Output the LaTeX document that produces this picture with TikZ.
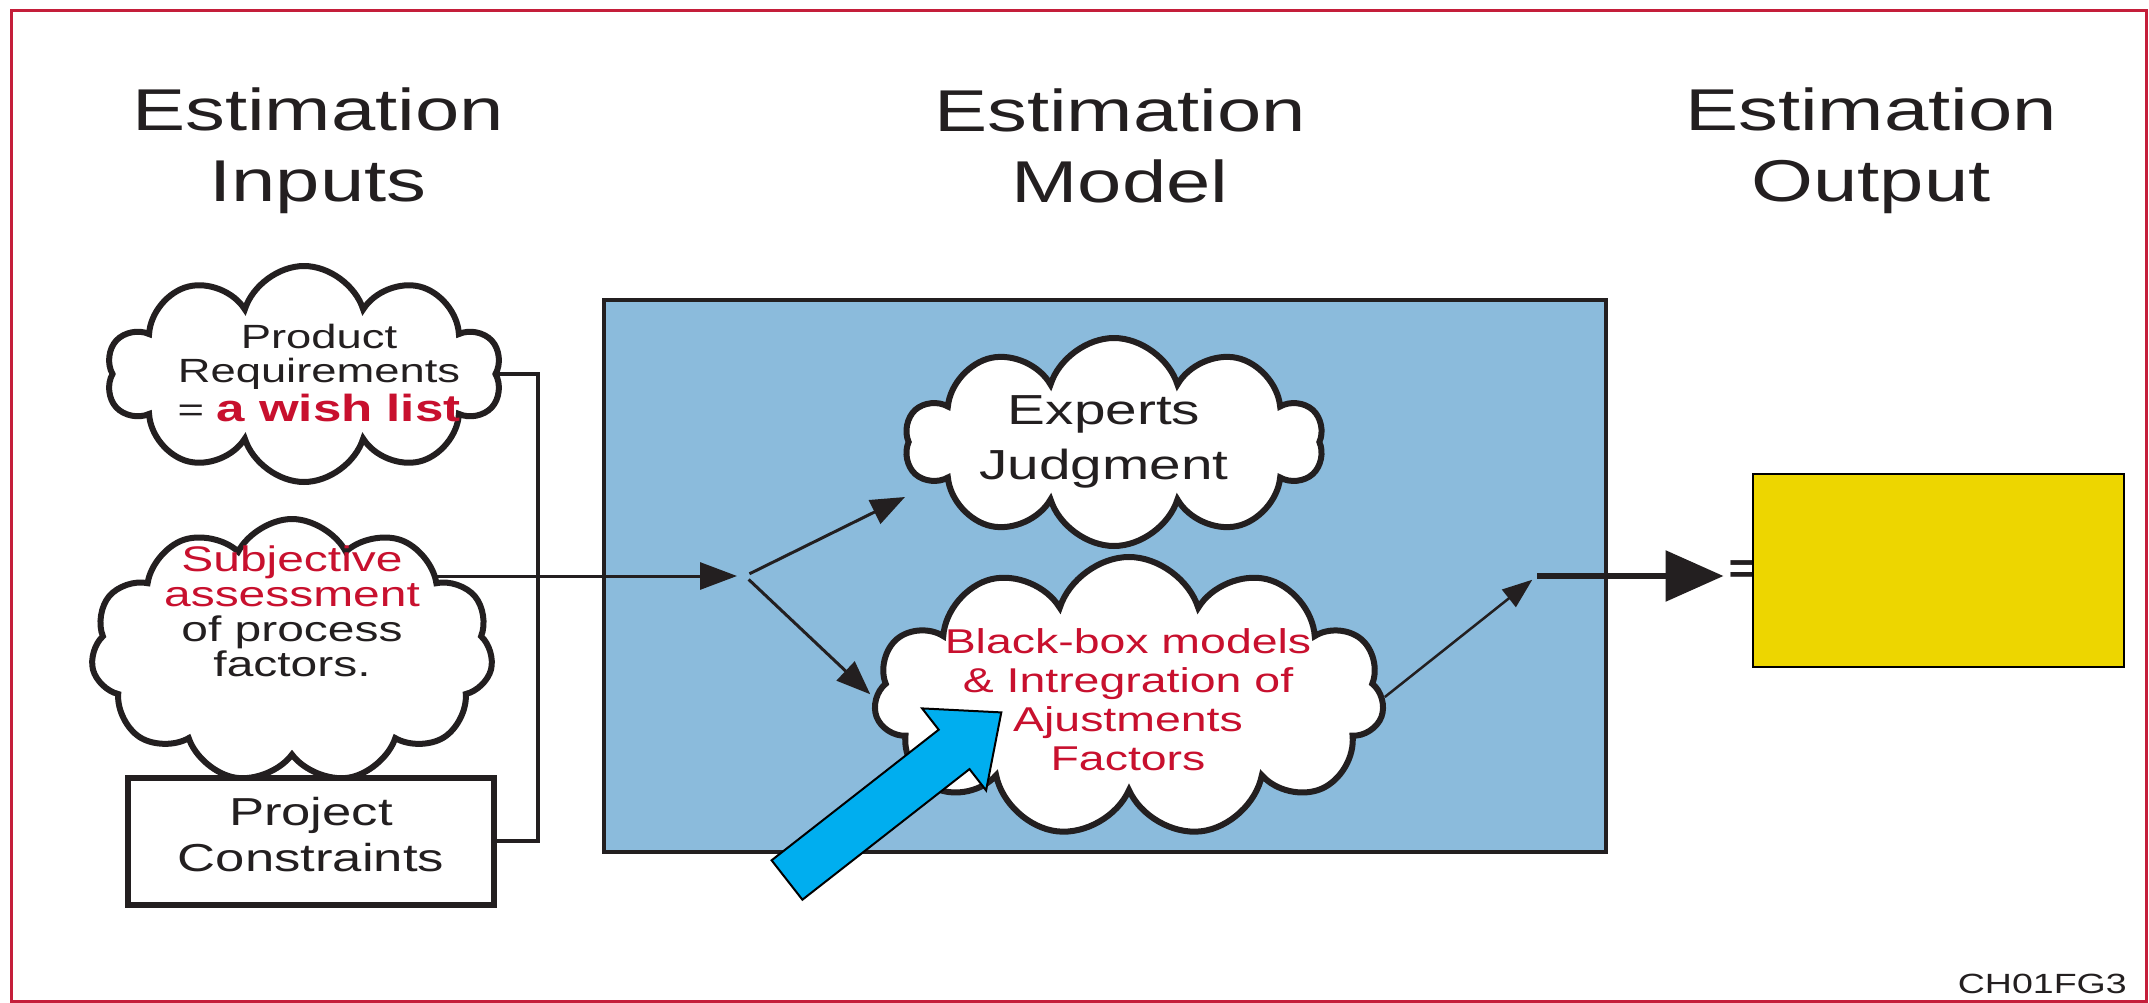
\documentclass[tikz,border=0pt]{standalone}
\usepackage{fontspec}
\setmainfont{Liberation Sans}[FakeStretch=1.35]
\usetikzlibrary{shapes.symbols,arrows.meta}
\pgfdeclarelayer{bg}
\pgfdeclarelayer{mid}
\pgfsetlayers{bg,mid,main}
\definecolor{framered}{RGB}{196,30,58}
\definecolor{txtred}{RGB}{200,16,46}
\definecolor{boxblue}{RGB}{139,187,220}
\definecolor{outyellow}{RGB}{237,214,0}
\definecolor{arrcyan}{RGB}{0,174,239}
\definecolor{ink}{RGB}{35,31,32}
\begin{document}
\begin{tikzpicture}[x=1pt,y=-1pt,
  title/.style={align=center, text=ink, font=\fontsize{59}{71}\selectfont, inner sep=0pt},
  puff/.style={cloud, cloud ignores aspect, draw=ink, line width=6pt, fill=white, inner sep=0pt, cloud puff arc=145},
  ctext/.style={align=center, inner sep=0pt, text=ink},
  conn/.style={draw=ink, line width=3.5pt},
  arr/.style={draw=ink, line width=3pt, -{Triangle[length=34pt,width=26pt]}},
]
\useasboundingbox (0,0) rectangle (2149,1003);
\draw[framered, line width=3pt] (11,11) rectangle (2146,1001);

% titles
\node[title] (tin) at (318,151) {Estimation\\Inputs};
\node[title] (tmod) at (1120,146) {Estimation\\Model};
\node[title] (tout) at (1871,151) {Estimation\\Output};

% model box
\begin{pgfonlayer}{bg}
\node[draw=ink, line width=4.5pt, fill=boxblue, minimum width=1002pt, minimum height=552pt, inner sep=0pt] (model) at (1105,576) {};
\end{pgfonlayer}

% input clouds and box
\node[puff, cloud puffs=10, minimum width=395pt, minimum height=216pt] (c1) at (304,374) {};
\node[ctext, font=\fontsize{33.6}{34}\selectfont] (t1) at (319,373) {Product\\Requirements\\[3pt]= {\color{txtred}\bfseries\fontsize{37.8}{38}\selectfont a wish list}};

\node[puff, cloud puffs=11, cloud puff arc=125, minimum width=402pt, minimum height=264pt] (c2) at (292,651) {};
\node[ctext, font=\fontsize{35.5}{35}\selectfont] (t2) at (292,611) {{\color{txtred}Subjective}\\{\color{txtred}assessment}\\of process\\factors.};

\node[draw=ink, fill=white, line width=6pt, minimum width=366pt, minimum height=127pt, inner sep=0pt, align=center, text=ink, font=\fontsize{39}{46}\selectfont] (pc) at (311,841) {Project\\Constraints\strut};

% model clouds
\node[puff, cloud puffs=10, minimum width=418pt, minimum height=208pt] (ej) at (1114,442) {};
\node[ctext, font=\fontsize{42}{55}\selectfont] (tej) at (1104,442) {Experts\\Judgment};

\node[puff, cloud puffs=11, minimum width=510pt, minimum height=280pt] (bb) at (1129,697) {};
\node[ctext, text=txtred, font=\fontsize{34.4}{39}\selectfont] (tbb) at (1128,700) {Black-box models\\\& Intregration of\\Ajustments\\Factors};

% output
\node[text=ink, font=\bfseries\fontsize{44}{44}\selectfont, inner sep=0pt, anchor=west] (eq) at (1728,572) {=};
\node[draw=black, line width=2pt, fill=outyellow, minimum width=371pt, minimum height=193pt, inner sep=0pt] (yb) at (1938,570) {};

% connectors
\coordinate (jx) at (538,600);
\coordinate (split) at (745,576);
\coordinate (merge) at (1537,576);
\coordinate (ejin) at (905,497);
\begin{pgfonlayer}{mid}
\draw[conn] (c1.center) -- (c1.center -| jx) |- (pc.east);
\draw[draw=ink, line width=3pt, -{Triangle[length=37pt,width=27pt]}, shorten >=8pt] (c2.center |- split) -- (split);
\draw[arr, shorten <=5pt] (split) -- (ejin);
\draw[arr, shorten <=5pt, shorten >=4pt] (split) -- (bb.west);
\draw[draw=ink, line width=2.5pt, -{Triangle[length=30pt,width=22pt]}, shorten >=6pt] (bb.east) -- (merge);
\draw[draw=ink, line width=6pt, -{Triangle[length=58pt,width=50pt]}, shorten >=28pt] (merge) -- (yb.west |- merge);
\end{pgfonlayer}

% highlight arrow
\draw[fill=arrcyan, draw=black, line width=2pt] (771.6,860.3) -- (938.7,729.7) -- (922.1,708.4) -- (1001.3,712.4) -- (986.1,790.4) -- (969.5,769.1) -- (802.4,899.7) -- cycle;

% figure code
\node[anchor=base east, text=ink, font=\fontsize{27.8}{28}\selectfont, inner sep=0pt] (code) at (2127,993) {CH01FG3};
\end{tikzpicture}
\end{document}
